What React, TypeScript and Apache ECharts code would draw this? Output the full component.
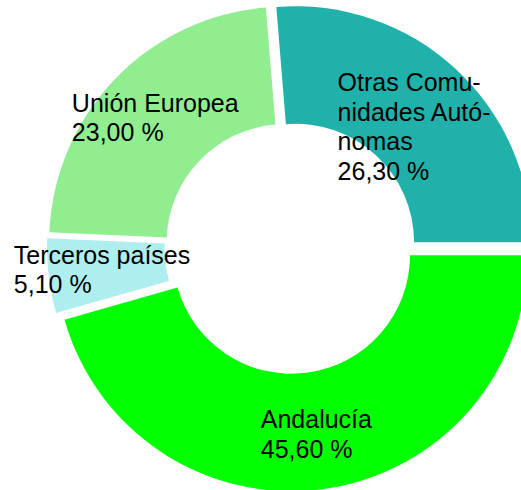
import React, { useEffect, useRef } from "react";
import * as echarts from "echarts";

const categories = ["Otras Comunidades Autónomas", "Unión Europea", "Terceros países", "Andalucía"];
const labelNames = ["Otras Comu-\nnidades Autó-\nnomas", "Unión Europea", "Terceros países", "Andalucía"];
const shares = [26.3, 23.0, 5.1, 45.6];
const colors = ["#20B2AA", "#90EE90", "#AFEEEE", "#00FF00"];

const sliceOffsets = [7.5, 7.5, 10.5, 7.5];
const labelShiftX = [-3, 0, -2, 0];
const labelShiftY = [17, 0, 0, 0];

const fmt = (v: number) => v.toFixed(2).replace(".", ",") + " %";

export default function App() {
  const ref = useRef<HTMLDivElement>(null);
  useEffect(() => {
    if (!ref.current) return;
    const chart = echarts.init(ref.current, undefined, { renderer: "svg" });
    chart.setOption({
      animation: false,
      backgroundColor: "#ffffff",
      series: [
        {
          type: "pie",
          center: [290.5, 247.8],
          radius: [118.5, 236],
          startAngle: 0,
          clockwise: false,
          selectedMode: "multiple",
          selectedOffset: 7.5,
          avoidLabelOverlap: false,
          emphasis: { disabled: true },
          itemStyle: { borderWidth: 0 },
          label: {
            show: true,
            position: "inside",
            color: "#000000",
            fontFamily: "Liberation Sans, Arial, sans-serif",
            fontSize: 25,
            lineHeight: 29.5,
            formatter: (p: any) => labelNames[p.dataIndex] + "\n" + fmt(p.value),
          },
          labelLine: { show: false },
          labelLayout: (p: any) => ({
            dx: -p.labelRect.width / 2 + labelShiftX[p.dataIndex],
            dy: -p.labelRect.height / 2 + labelShiftY[p.dataIndex],
            align: "left",
            verticalAlign: "top",
          }),
          data: categories.map((name, i) => ({
            name,
            value: shares[i],
            selected: true,
            selectedOffset: sliceOffsets[i],
            itemStyle: { color: colors[i] },
          })),
        },
      ],
    });
    return () => chart.dispose();
  }, []);
  return (
    <div
      ref={ref}
      style={{ position: "fixed", left: 0, top: 0, width: 521, height: 490 }}
    />
  );
}
